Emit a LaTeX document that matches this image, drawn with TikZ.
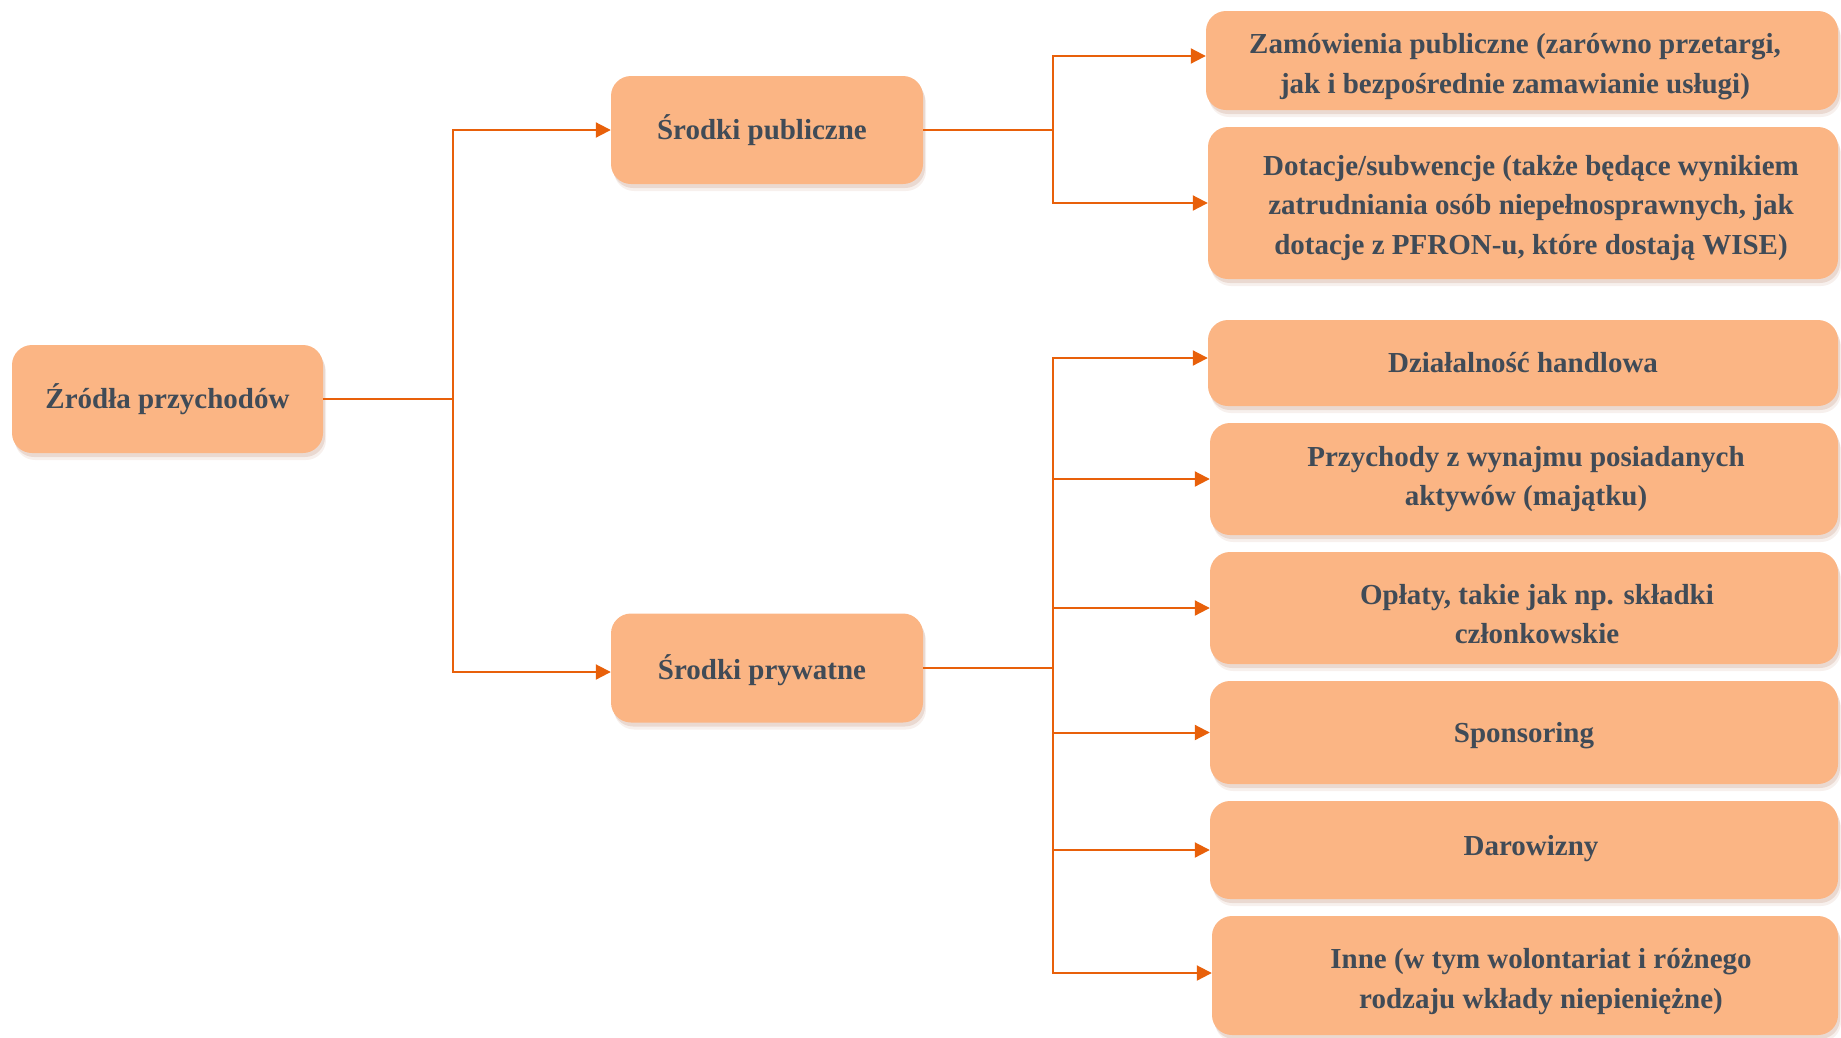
\documentclass[tikz,border=0pt]{standalone}
\usepackage{fontspec}
\setmainfont{Liberation Serif}
\usetikzlibrary{arrows.meta,shadows}
\definecolor{boxfill}{HTML}{FBB584}
\definecolor{linec}{HTML}{E8600A}
\definecolor{txtc}{HTML}{404B57}
\definecolor{shadc}{HTML}{B07050}
\tikzset{
  box/.style={draw=none, fill=boxfill, rounded corners=20pt, inner sep=0pt,
    drop shadow={shadow xshift=3pt, shadow yshift=-7pt, fill=shadc, opacity=0.10},
    drop shadow={shadow xshift=2pt, shadow yshift=-4pt, fill=shadc, opacity=0.18}},
  lbl/.style={align=center, text=txtc, font=\fontsize{29}{39.5}\selectfont\bfseries, inner sep=0pt},
  conn/.style={draw=linec, line width=2pt},
  arr/.style={conn, -{Triangle[length=15pt,width=15pt]}}
}
\begin{document}
\begin{tikzpicture}[x=1pt,y=-1pt]
\useasboundingbox (0,0) rectangle (1841,1037);
% boxes
\node[box, minimum width=311pt, minimum height=108pt] (root) at (167.5,399) {};
\node[box, minimum width=312pt, minimum height=108pt] (pub) at (767,130) {};
\node[box, minimum width=312pt, minimum height=109pt] (priv) at (767,668) {};
\node[box, minimum width=632pt, minimum height=99pt] (z1) at (1522,60.5) {};
\node[box, minimum width=630pt, minimum height=152pt] (z2) at (1523,203) {};
\node[box, minimum width=630pt, minimum height=86pt] (p1) at (1523,363) {};
\node[box, minimum width=628pt, minimum height=112pt] (p2) at (1524,479) {};
\node[box, minimum width=628pt, minimum height=112pt] (p3) at (1524,608) {};
\node[box, minimum width=628pt, minimum height=103pt] (p4) at (1524,732.5) {};
\node[box, minimum width=628pt, minimum height=98pt] (p5) at (1524,850) {};
\node[box, minimum width=626pt, minimum height=119pt] (p6) at (1525,975.5) {};
% texts
\node[lbl] (roott) at (root.center) {Źródła przychodów};
\node[lbl] (pubt) at ([shift={(-5,0)}]pub.center) {Środki publiczne};
\node[lbl] (privt) at ([shift={(-5,2)}]priv.center) {Środki prywatne};
\node[lbl] (z1t) at ([shift={(-7,6)}]z1.center) {Zamówienia publiczne (zarówno przetargi,\\ jak i bezpośrednie zamawianie usługi)};
\node[lbl] (z2t) at ([shift={(8,5)}]z2.center) {Dotacje/subwencje (także będące wynikiem\\ zatrudniania osób niepełnosprawnych, jak\\ dotacje z PFRON-u, które dostają WISE)};
\node[lbl] (p1t) at (p1.center) {Działalność handlowa};
\node[lbl] (p2t) at ([shift={(2,0)}]p2.center) {Przychody z wynajmu posiadanych\\ aktywów (majątku)};
\node[lbl] (p3t) at ([shift={(13,6)}]p3.center) {Opłaty, takie jak np. składki\\ członkowskie};
\node[lbl] (p4t) at ([shift={(0,3)}]p4.center) {Sponsoring};
\node[lbl] (p5t) at ([shift={(7,-1)}]p5.center) {Darowizny};
\node[lbl] (p6t) at ([shift={(16,6)}]p6.center) {Inne (w tym wolontariat i różnego\\ rodzaju wkłady niepieniężne)};
% junctions
\coordinate (j1) at (453,399);
\coordinate (j2) at (1053,130);
\coordinate (j3) at (1053,668);
% connectors
\draw[conn] (root.east) -- (j1);
\draw[arr] (j1) |- (pub.west);
\draw[arr] (j1) |- ([yshift=-4pt]priv.west);
\draw[conn] (pub.east) -- (j2);
\draw[arr] (j2) |- ([yshift=4.5pt]z1.west);
\draw[arr] (j2) |- (z2.west);
\draw[conn] (priv.east) -- (j3);
\draw[arr] (j3) |- ([yshift=5pt]p1.west);
\draw[arr] (j3) |- (p2.west);
\draw[arr] (j3) |- (p3.west);
\draw[arr] (j3) |- (p4.west);
\draw[arr] (j3) |- (p5.west);
\draw[arr] (j3) |- ([yshift=2.5pt]p6.west);
\end{tikzpicture}
\end{document}
